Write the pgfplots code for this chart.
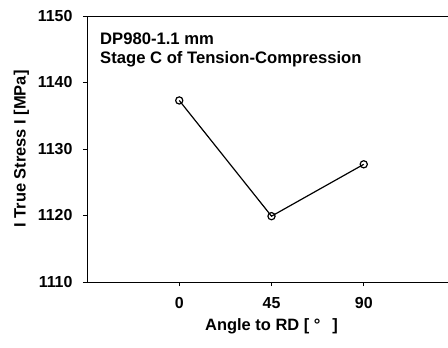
\documentclass[border=0pt]{standalone}
\usepackage{fontspec}
\setmainfont{Liberation Sans}
\usepackage{pgfplots}
\pgfplotsset{compat=1.18}
\begin{document}
\begin{tikzpicture}[x=1bp,y=1bp]
\begin{axis}[
  at={(0,0)}, anchor=south west,
  scale only axis,
  width=369bp, height=266bp,
  xmin=-45, xmax=135,
  ymin=1110, ymax=1150,
  xtick={0,45,90},
  ytick={1110,1120,1130,1140,1150},
  tick align=outside,
  tick pos=left,
  major tick length=4bp,
  axis line style={line width=0.9pt},
  tick style={line width=0.7pt, black},
  /pgf/number format/assume math mode=true,
  /pgf/number format/set thousands separator={},
  tick label style={font=\fontsize{16}{19}\selectfont\bfseries},
  xticklabel style={yshift=-8bp},
  yticklabel style={xshift=-7bp},
  xlabel={Angle to RD [ ° \, ]},
  ylabel={I True Stress I [MPa]},
  label style={font=\fontsize{16.5}{19}\selectfont\bfseries},
  xlabel style={yshift=-3bp},
  ylabel style={yshift=2bp},
  clip=false,
]
\addplot[black, line width=1.2pt, mark=o, mark size=3.6bp,
         mark options={line width=1.2pt}]
  coordinates {(0,1137.3) (45,1119.9) (90,1127.7)};
\node[anchor=north west, align=left, inner sep=0pt,
      font=\fontsize{16.7}{18.3}\selectfont\bfseries]
  at ([xshift=13bp,yshift=-17bp]rel axis cs:0,1)
  {DP980-1.1 mm\\Stage C of Tension-Compression};
\end{axis}
\pgfresetboundingbox
\useasboundingbox (-87,-65) rectangle (361,282);
\end{tikzpicture}
\end{document}
